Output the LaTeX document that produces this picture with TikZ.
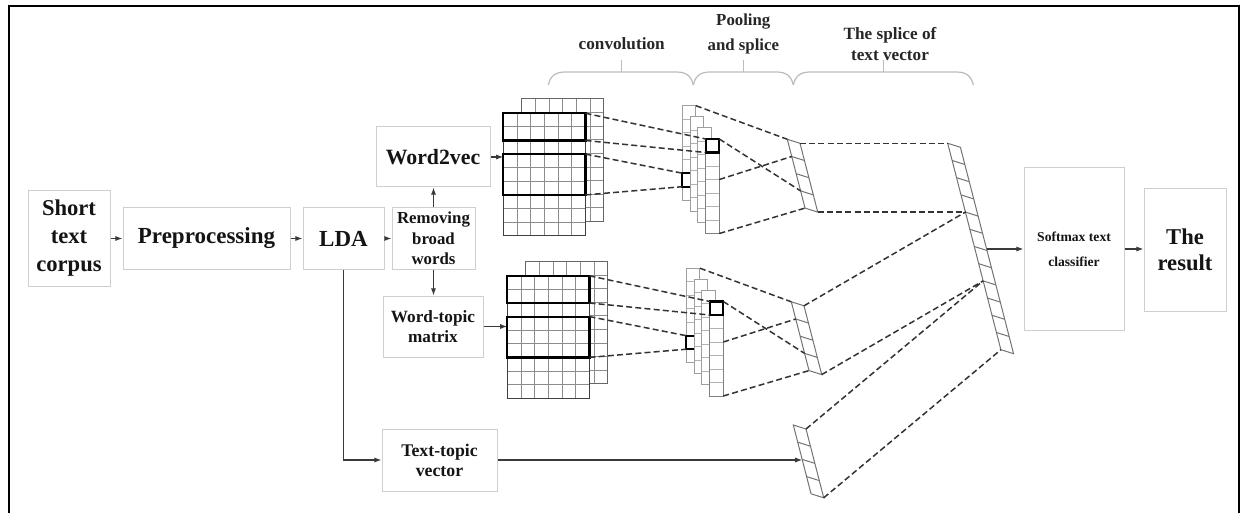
\documentclass[tikz,border=0pt]{standalone}
\usepackage{fontspec}
\setmainfont{Liberation Serif}
\usetikzlibrary{arrows.meta,calc}
\definecolor{boxgray}{HTML}{CFCFCF}
\definecolor{arrgray}{HTML}{3A3A3A}
\definecolor{dashgray}{HTML}{333333}
\definecolor{bracegray}{HTML}{BBBBBB}
\tikzset{
  box/.style={draw=boxgray, line width=0.5pt, inner sep=0pt, align=center, font=\bfseries, text=black!92},
  arr/.style={draw=arrgray, line width=0.6pt, -{Latex[length=3.6pt,width=2.6pt]}},
  dsh/.style={draw=dashgray, line width=0.75pt, dash pattern=on 3pt off 1.6pt},
  gridin/.style={draw=black!45, line width=0.45pt},
  gridfront/.style={draw=black!75, line width=0.55pt},
  gridback/.style={draw=black!60, line width=0.5pt},
  thickbox/.style={draw=black, line width=1.1pt},
  pin/.style={draw=black!30, line width=0.45pt},
  pout/.style={draw=black!38, line width=0.5pt},
  pfront/.style={draw=black!50, line width=0.5pt},
  vecl/.style={draw=black!55, line width=0.5pt},
  brc/.style={draw=bracegray, line width=0.6pt},
  lbl/.style={font=\bfseries, text=black!85, align=center, inner sep=0pt}
}
% feature map grid: x y style
\newcommand\fmap[3]{%
  \fill[white] (#1,#2) rectangle ++(82.2,122.4);
  \foreach \k in {1,...,5} \draw[gridin] ({#1+\k*13.7},#2) -- ++(0,122.4);
  \foreach \k in {1,...,8} \draw[gridin] (#1,{#2+\k*13.6}) -- ++(82.2,0);
  \draw[#3] (#1,#2) rectangle ++(82.2,122.4);
}
% pooling column: x y style
\newcommand\pcol[3]{%
  \fill[white] (#1,#2) rectangle ++(13.6,94.5);
  \foreach \k in {1,...,6} \draw[pin] (#1,{#2+\k*13.5}) -- ++(13.6,0);
  \draw[#3] (#1,#2) rectangle ++(13.6,94.5);
}
% slanted vector: x y ncells ncells-1
\newcommand\pvec[4]{%
  \draw[vecl] (#1,#2) -- ++(12.7,4) -- ++({#3*4.43},{#3*17.2}) -- ++(-12.7,-4) -- cycle;
  \foreach \k in {1,...,#4} \draw[vecl] ({#1+\k*4.43},{#2+\k*17.2}) -- ++(12.7,4);
}
% brace: x0 x1 tip
\newcommand\topbrace[3]{%
  \draw[brc] (#1,85) .. controls (#1+2,76) and (#1+7,72) .. (#1+17,72) -- (#2-17,72) .. controls (#2-7,72) and (#2-2,76) .. (#2,85);
  \draw[brc] (#3,72) -- (#3,60);
}
% one convolution group, prefix #1
\newcommand\convgroup[1]{%
  \fmap{521.6}{99}{gridback}
  \fmap{503.3}{113.3}{gridfront}
  \draw[thickbox] (503.3,113.3) rectangle (585.5,140.5);
  \draw[thickbox] (503.3,154.1) rectangle (585.5,194.9);
  \coordinate (#1r1tr) at (585.5,113.3);
  \coordinate (#1r1br) at (585.5,140.5);
  \coordinate (#1r2tr) at (585.5,154.1);
  \coordinate (#1r2br) at (585.5,194.9);
  \pcol{682.3}{105.7}{pout}
  \draw[thickbox] (682.3,173.2) rectangle ++(13.6,13.5);
  \pcol{690.1}{116.8}{pout}
  \pcol{697.9}{127.9}{pout}
  \pcol{705.7}{139}{pfront}
  \draw[thickbox] (705.7,139) rectangle ++(13.6,13.5);
  \coordinate (#1c1tl) at (682.3,173.2);
  \coordinate (#1c1bl) at (682.3,186.7);
  \coordinate (#1c1tr) at (695.9,105.7);
  \coordinate (#1c4tl) at (705.7,139);
  \coordinate (#1c4bl) at (705.7,152.5);
  \coordinate (#1c4tr) at (719.3,139);
  \coordinate (#1c4m) at (719.3,179.5);
  \coordinate (#1c4br) at (719.3,233.5);
  \pvec{787.3}{139.3}{4}{3}
  \coordinate (#1vtl) at (787.3,139.3);
  \coordinate (#1vtr) at (800,143.3);
  \coordinate (#1vd1) at (791.7,156.5);
  \coordinate (#1vd3) at (800.6,190.9);
  \coordinate (#1vbl) at (805,208.1);
  \coordinate (#1vbr) at (817.7,212.1);
  \draw[dsh] (#1r1tr) -- (#1c4tl);
  \draw[dsh] (#1r1br) -- (#1c4bl);
  \draw[dsh] (#1r2tr) -- (#1c1tl);
  \draw[dsh] (#1r2br) -- (#1c1bl);
  \draw[dsh] (#1c1tr) -- (#1vtl);
  \draw[dsh] (#1c4tr) -- (#1vd3);
  \draw[dsh] (#1c4m) -- (#1vd1);
  \draw[dsh] (#1c4br) -- (#1vbl);
}
\begin{document}
\begin{tikzpicture}[x=0.5pt,y=-0.5pt]
\useasboundingbox (0,0) rectangle (1241,513);
% frame
\draw[line width=1.1pt, black] (9,513) -- (9,6) -- (1239,6) -- (1239,513);

% boxes
\node[box, minimum width=41pt, minimum height=47.5pt, font=\bfseries\fontsize{11.3}{14}\selectfont] (corpus) at (69,238.5) {Short\\text\\corpus};
\node[box, minimum width=83.5pt, minimum height=30.5pt, font=\bfseries\fontsize{11.5}{14}\selectfont] (prep) at (206.5,238.5) {Preprocessing};
\node[box, minimum width=40.5pt, minimum height=30.5pt, font=\bfseries\fontsize{11.5}{14}\selectfont] (lda) at (343.5,238.5) {LDA};
\node[box, minimum width=41.5pt, minimum height=30.5pt, font=\bfseries\fontsize{8.4}{10.2}\selectfont] (remov) at (433.5,238.5) {Removing\\broad\\words};
\node[box, minimum width=57pt, minimum height=30pt, font=\bfseries\fontsize{10.9}{12}\selectfont] (w2v) at (433,157) {Word2vec};
\node[box, minimum width=50pt, minimum height=30.5pt, font=\bfseries\fontsize{8.6}{10}\selectfont] (wtm) at (433,326.5) {Word-topic\\matrix};
\node[box, minimum width=57.5pt, minimum height=31pt, font=\bfseries\fontsize{8.9}{10}\selectfont] (ttv) at (439.5,460) {Text-topic\\vector};
\node[box, minimum width=50pt, minimum height=81pt, font=\bfseries\fontsize{6.8}{12.5}\selectfont] (soft) at (1074,249) {Softmax text\\classifier};
\node[box, minimum width=41pt, minimum height=61pt, font=\bfseries\fontsize{11.3}{13}\selectfont] (result) at (1185,250) {The\\result};

% braces and labels
\topbrace{548.3}{693.3}{621.7}
\topbrace{693.3}{793.3}{743.3}
\topbrace{793.3}{973.3}{883.3}
\node[lbl, font=\bfseries\fontsize{8.6}{12.5}\selectfont] (lconv) at (621.7,44) {convolution};
\node[lbl, font=\bfseries\fontsize{8.4}{12.5}\selectfont] (lpool) at (743.3,34) {Pooling\\and splice};
\node[lbl, font=\bfseries\fontsize{8.6}{10.8}\selectfont] (lspl) at (890,44) {The splice of\\text vector};

% convolution groups
\convgroup{g1}
\begin{scope}[shift={(4,162.5)}]
\convgroup{g2}
\end{scope}

% big concatenated vector
\pvec{947.7}{143.3}{12}{11}
\coordinate (bv0) at (947.7,143.3);
\coordinate (bv4) at (965.4,212.1);
\coordinate (bv8) at (983.1,280.9);
\coordinate (bv12) at (1000.9,349.7);
\coordinate (bvout) at (986.6,249);

% text-topic vector
\pvec{793.3}{425}{4}{3}
\coordinate (tvtr) at (806,429);
\coordinate (tvbr) at (823.7,497.8);
\coordinate (tvin) at (802.3,460);

% splice dashed lines
\draw[dsh] (g1vtr) -- (bv0);
\draw[dsh] (g1vbr) -- (bv4);
\draw[dsh] (g2vtr) -- (bv4);
\draw[dsh] (g2vbr) -- (bv8);
\draw[dsh] (tvtr) -- (bv8);
\draw[dsh] (tvbr) -- (bv12);

% arrows
\coordinate (g1in) at (503.3,157);
\coordinate (g2in) at (507.3,326.5);
\draw[arr] (corpus.east) -- (prep.west);
\draw[arr] (prep.east) -- (lda.west);
\draw[arr] (lda.east) -- (remov.west);
\draw[arr] (remov.north) -- (remov.north |- w2v.south);
\draw[arr] (remov.south) -- (remov.south |- wtm.north);
\draw[arr] (lda.south) |- (ttv.west);
\draw[arr] (w2v.east) -- (g1in);
\draw[arr] (wtm.east) -- (g2in);
\draw[arr] (ttv.east) -- (tvin);
\draw[arr] (bvout) -- (bvout -| soft.west);
\draw[arr] (soft.east) -- (soft.east -| result.west);
\end{tikzpicture}
\end{document}
